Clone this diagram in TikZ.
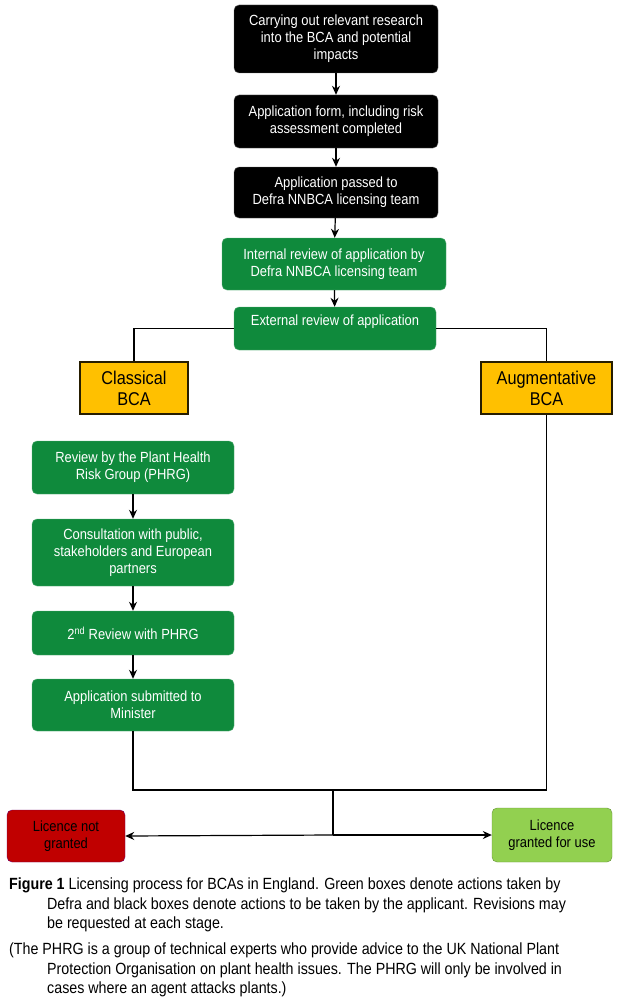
\documentclass[tikz,border=0pt]{standalone}
\usepackage{fontspec}
\setmainfont{Liberation Sans}[FakeStretch=0.88]
\usetikzlibrary{arrows.meta}
\definecolor{gbox}{HTML}{0F8A3C}
\definecolor{ybox}{HTML}{FFC000}
\definecolor{rbox}{HTML}{C00000}
\definecolor{lgbox}{HTML}{92D050}
\begin{document}
\begin{tikzpicture}[x=1pt,y=-1pt,
  box/.style={rounded corners=5pt,align=center,font=\fontsize{14.7}{17}\selectfont,inner sep=0pt},
  blk/.style={box,fill=black,draw=black!60,text=white},
  grn/.style={box,fill=gbox,draw=gbox!70!white,text=white},
  yel/.style={align=center,fill=ybox,draw=black!85!ybox,line width=2.2pt,font=\fontsize{18.5}{21}\selectfont,inner sep=0pt},
  arr/.style={-{Stealth[length=9pt,width=8pt]},line width=1.2pt},
  ln/.style={line width=1.2pt},
  capt/.style={anchor=west,inner sep=0pt,font=\fontsize{16.2}{19}\selectfont}]
\useasboundingbox (0,0) rectangle (624,1006);
\node[blk,minimum width=204,minimum height=68] (b1) at (336,39) {Carrying out relevant research\\into the BCA and potential\\impacts};
\node[blk,minimum width=204,minimum height=53] (b2) at (336,121.5) {Application form, including risk\\assessment completed};
\node[blk,minimum width=204,minimum height=51] (b3) at (336,192.5) {Application passed to\\Defra NNBCA licensing team};
\node[grn,minimum width=224,minimum height=52] (b4) at (334,264) {Internal review of application by\\Defra NNBCA licensing team};
\node[grn,minimum width=202,minimum height=43,text depth=16pt] (b5) at (335,328.5) {External review of application};
\node[yel,minimum width=108,minimum height=52] (cl) at (134,388) {Classical\\BCA};
\node[yel,minimum width=131,minimum height=52] (au) at (546.5,388) {Augmentative\\BCA};
\node[grn,minimum width=202,minimum height=53] (g1) at (133,467.5) {Review by the Plant Health\\Risk Group (PHRG)};
\node[grn,minimum width=202,minimum height=67] (g2) at (133,552.5) {Consultation with public,\\stakeholders and European\\partners};
\node[grn,minimum width=202,minimum height=44] (g3) at (133,633) {2\textsuperscript{nd} Review with PHRG};
\node[grn,minimum width=202,minimum height=52] (g4) at (133,705) {Application submitted to\\Minister};
\node[box,fill=rbox,draw=rbox!60!blue,text=black,minimum width=118,minimum height=52] (no) at (66,836) {Licence not\\granted};
\node[box,fill=lgbox,draw=lgbox!70!black,text=black,minimum width=120,minimum height=54] (yes) at (552,835) {Licence\\granted for use};
\coordinate (j) at (333,790);
\coordinate (k) at (333,835);
\draw[arr] (b1) -- (b2);
\draw[arr] (b2) -- (b3);
\draw[arr] (b3) -- (b4);
\draw[arr] (b4) -- (b5);
\draw[ln] (b5.west) -| (cl.north);
\draw[ln] (b5.east) -| (au.north);
\draw[arr] (g1) -- (g2);
\draw[arr] (g2) -- (g3);
\draw[arr] (g3) -- (g4);
\draw[ln] (g4.south) |- (j) -| (au.south);
\draw[ln] (j) -- (k);
\draw[arr] (k) -- (no.east);
\draw[arr] (k) -- (yes.west);
\node[capt] (c1) at (9,885) {\textbf{Figure 1} Licensing process for BCAs in England. Green boxes denote actions taken by};
\node[capt] (c2) at (47,905) {Defra and black boxes denote actions to be taken by the applicant. Revisions may};
\node[capt] (c3) at (47,924) {be requested at each stage.};
\node[capt] (c4) at (9,950) {(The PHRG is a group of technical experts who provide advice to the UK National Plant};
\node[capt] (c5) at (47,970) {Protection Organisation on plant health issues. The PHRG will only be involved in};
\node[capt] (c6) at (47,989) {cases where an agent attacks plants.)};
\end{tikzpicture}
\end{document}
